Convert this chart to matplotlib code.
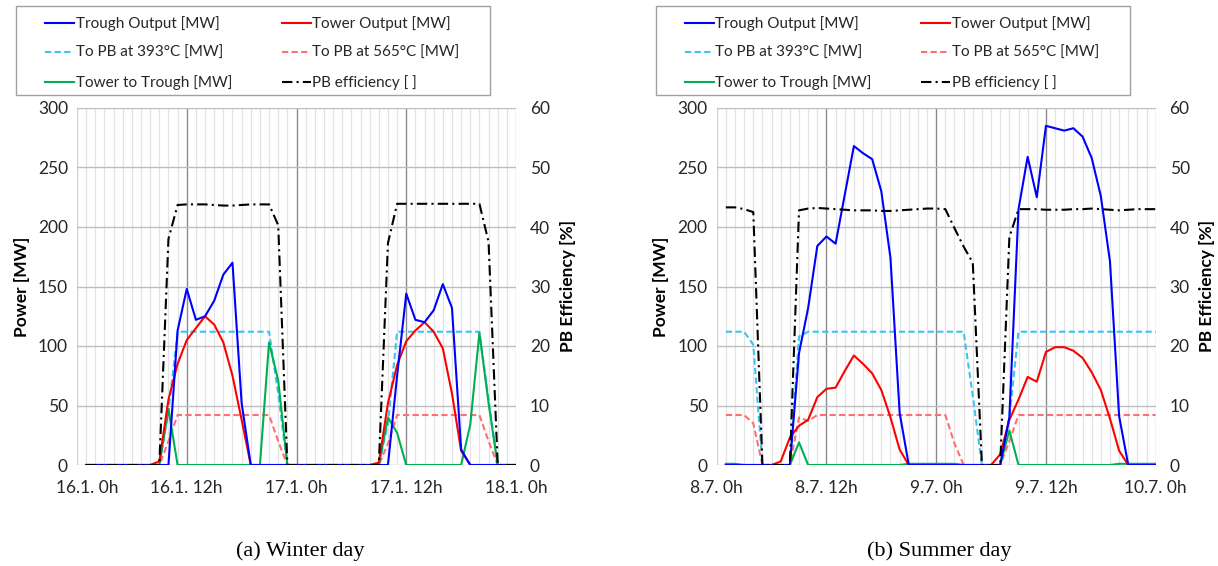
import matplotlib
matplotlib.use("Agg")
import matplotlib.pyplot as plt
from matplotlib.lines import Line2D
from matplotlib.patches import Rectangle
import matplotlib.transforms as mtransforms

# ---------------- data ----------------
hours = list(range(1, 49))

# Winter day (16.1. - 18.1.)
w_xticklabels = ["16.1. 0h", "16.1. 12h", "17.1. 0h", "17.1. 12h", "18.1. 0h"]
w_trough = [0, 0, 0, 0, 0, 0, 0, 0, 0, 0, 113, 148, 122, 125, 138, 160, 170, 52, 0, 0, 0, 0, 0, 0,
            0, 0, 0, 0, 0, 0, 0, 0, 0, 0, 75, 144, 122, 120, 130, 152, 132, 13, 0, 0, 0, 0, 0, 0]
w_tower = [0, 0, 0, 0, 0, 0, 0, 0, 3, 55, 85, 105, 115, 125, 118, 103, 75, 38, 0, 0, 0, 0, 0, 0,
           0, 0, 0, 0, 0, 0, 0, 0, 2, 52, 84, 104, 113, 120, 112, 98, 60, 12, 0, 0, 0, 0, 0, 0]
w_pb393 = [0, 0, 0, 0, 0, 0, 0, 0, 0, 45, 112, 112, 112, 112, 112, 112, 112, 112, 112, 112, 112, 60, 0, 0,
           0, 0, 0, 0, 0, 0, 0, 0, 0, 35, 112, 112, 112, 112, 112, 112, 112, 112, 112, 112, 55, 0, 0, 0]
w_pb565 = [0, 0, 0, 0, 0, 0, 0, 0, 0, 20, 42, 42, 42, 42, 42, 42, 42, 42, 42, 42, 42, 20, 0, 0,
           0, 0, 0, 0, 0, 0, 0, 0, 0, 18, 42, 42, 42, 42, 42, 42, 42, 42, 42, 42, 20, 0, 0, 0]
w_t2t = [0, 0, 0, 0, 0, 0, 0, 0, 0, 47, 0, 0, 0, 0, 0, 0, 0, 0, 0, 0, 103, 71, 0, 0,
         0, 0, 0, 0, 0, 0, 0, 0, 0, 40, 27, 0, 0, 0, 0, 0, 0, 0, 34, 111, 52, 0, 0, 0]
w_eff = [0, 0, 0, 0, 0, 0, 0, 0, 0, 38.0, 43.7, 43.8, 43.8, 43.8, 43.7, 43.6, 43.6, 43.7, 43.8, 43.8, 43.8, 40.3, 0, 0,
         0, 0, 0, 0, 0, 0, 0, 0, 0, 37.3, 43.9, 43.9, 43.9, 43.9, 43.9, 43.9, 43.9, 43.9, 43.9, 43.9, 37.5, 0, 0, 0]

# Summer day (8.7. - 10.7.)
s_xticklabels = ["8.7. 0h", "8.7. 12h", "9.7. 0h", "9.7. 12h", "10.7. 0h"]
s_trough = [0, 0, 0, 0, 0, 0, 0, 0, 94, 132, 184, 192, 186, 227, 268, 262, 257, 230, 174, 44, 0, 0, 0, 0,
            0, 0, 0, 0, 0, 0, 0, 40, 215, 259, 225, 285, 283, 281, 283, 276, 258, 226, 171, 41, 0, 0, 0, 0]
s_tower = [0, 0, 0, 0, 0, 0, 3, 23, 33, 38, 57, 64, 65, 79, 92, 85, 77, 63, 40, 13, 0, 0, 0, 0,
           0, 0, 0, 0, 0, 0, 9, 38, 55, 74, 70, 95, 99, 99, 96, 90, 78, 63, 39, 12, 0, 0, 0, 0]
s_pb393 = [112, 112, 112, 101, 0, 0, 0, 0, 108, 112, 112, 112, 112, 112, 112, 112, 112, 112, 112, 112, 112, 112, 112, 112,
           112, 112, 112, 58, 0, 0, 0, 40, 112, 112, 112, 112, 112, 112, 112, 112, 112, 112, 112, 112, 112, 112, 112, 112]
s_pb565 = [42, 42, 42, 35, 0, 0, 0, 0, 40, 37, 42, 42, 42, 42, 42, 42, 42, 42, 42, 42, 42, 42, 42, 42,
           42, 18, 0, 0, 0, 0, 0, 20, 42, 42, 42, 42, 42, 42, 42, 42, 42, 42, 42, 42, 42, 42, 42, 42]
s_t2t = [1, 1, 0, 0, 0, 0, 0, 0, 19, 0, 0, 0, 0, 0, 0, 0, 0, 0, 0, 0, 1, 1, 1, 1,
         1, 1, 0, 0, 0, 0, 0, 29, 0, 0, 0, 0, 0, 0, 0, 0, 0, 0, 0, 1, 1, 1, 1, 1]
s_eff = [43.3, 43.3, 43.0, 42.5, 0, 0, 0, 0, 42.8, 43.1, 43.2, 43.1, 43.0, 42.9, 42.8, 42.8, 42.8, 42.7, 42.7, 42.8, 42.9, 43.0, 43.1, 43.1,
         43.0, 39.8, 36.7, 34.0, 0, 0, 0, 38.3, 43.0, 43.0, 43.0, 42.9, 42.9, 42.9, 43.0, 43.0, 43.1, 43.0, 42.9, 42.8, 42.9, 43.0, 43.0, 43.0]

xtick_pos = [0, 12, 24, 36, 48]
power_ticks = [0, 50, 100, 150, 200, 250, 300]
eff_ticks = [0, 10, 20, 30, 40, 50, 60]
captions = ["(a) Winter day", "(b) Summer day"]

labels = ["Trough Output [MW]", "Tower Output [MW]", "To PB at 393°C [MW]",
          "To PB at 565°C [MW]", "Tower to Trough [MW]", "PB efficiency [ ]"]

# ---------------- style ----------------
W, H = 1218, 566
FONT = "Lato"
TICK_FS = 12.5
LEG_FS = 11
LAB_FS = 12.5
C_BLUE = "#0000FF"
C_RED = "#FF0000"
C_CYAN = "#3CC3F4"
C_LRED = "#FF6F6F"
C_GREEN = "#00B050"
LW = 1.5
ST_DASH = (0, (3, 1.6))
ST_DASHDOT = (0, (5, 2, 1, 2))

plt.rcParams["font.family"] = [FONT, "DejaVu Sans"]

fig = plt.figure(figsize=(W / 100, H / 100), dpi=100)


def fxy(px, py):
    return px / W, 1 - py / H


def panel(x0, xlabels, trough, tower, pb393, pb565, t2t, eff, caption, shift_first):
    x1 = x0 + 439
    y0, y1 = 108, 465
    ax = fig.add_axes([x0 / W, 1 - y1 / H, (x1 - x0) / W, (y1 - y0) / H])
    ax.set_xlim(0, 48)
    ax.set_ylim(0, 300)
    ax.set_xticks(xtick_pos)
    ax.set_xticks(range(0, 49), minor=True)
    ax.set_xticklabels(xlabels)
    ax.set_yticks(power_ticks)
    for s in ax.spines.values():
        s.set_visible(False)
    ax.tick_params(axis="both", which="both", length=0, labelsize=TICK_FS, colors="#262626")
    ax.tick_params(axis="x", pad=11)
    ax.tick_params(axis="y", pad=6.5)
    ax.grid(axis="x", which="minor", color="#E3E3E3", lw=0.9)
    ax.grid(axis="x", which="major", color="#8A8A8A", lw=1.0)
    ax.grid(axis="y", which="major", color="#BDBDBD", lw=1.0)
    glines = ax.get_xgridlines()
    glines[0].set_color("#D0D0D0")
    glines[-1].set_color("#D0D0D0")
    ax.set_axisbelow(True)

    ax.plot(hours, pb393, color=C_CYAN, lw=LW, ls=ST_DASH)
    ax.plot(hours, pb565, color=C_LRED, lw=LW, ls=ST_DASH)
    ax.plot(hours, t2t, color=C_GREEN, lw=LW)
    ax.plot(hours, tower, color=C_RED, lw=LW)
    ax.plot(hours, trough, color=C_BLUE, lw=LW)

    ax2 = ax.twinx()
    ax2.set_ylim(0, 60)
    ax2.set_yticks(eff_ticks)
    for s in ax2.spines.values():
        s.set_visible(False)
    ax2.tick_params(axis="y", length=0, labelsize=TICK_FS, colors="#262626", pad=10)
    ax2.plot(hours, eff, color="black", lw=LW, ls=ST_DASHDOT)

    ax.set_ylabel("Power [MW]", fontsize=LAB_FS, fontweight="bold", labelpad=6)
    ax2.set_ylabel("PB Efficiency [%]", fontsize=LAB_FS, fontweight="bold", labelpad=7)

    if shift_first:
        lab0 = ax.get_xticklabels()[0]
        lab0.set_transform(lab0.get_transform() +
                           mtransforms.ScaledTranslation(10 / 100, 0, fig.dpi_scale_trans))

    handles = [
        Line2D([], [], color=C_BLUE, lw=LW),
        Line2D([], [], color=C_CYAN, lw=LW, ls=ST_DASH),
        Line2D([], [], color=C_GREEN, lw=LW),
        Line2D([], [], color=C_RED, lw=LW),
        Line2D([], [], color=C_LRED, lw=LW, ls=ST_DASH),
        Line2D([], [], color="black", lw=LW, ls=ST_DASHDOT),
    ]
    labs = [labels[0], labels[2], labels[4], labels[1], labels[3], labels[5]]
    leg = ax.legend(handles, labs, ncol=2, loc="upper left",
                    bbox_to_anchor=fxy(x0 - 32, 16), bbox_transform=fig.transFigure,
                    frameon=False, borderpad=0, handlelength=1.9, handletextpad=0.1,
                    labelspacing=0.98, columnspacing=3.25, fontsize=LEG_FS, borderaxespad=0)
    for t in leg.get_texts():
        t.set_color("#262626")
    bx, by = fxy(x0 - 61, 95)
    fig.add_artist(Rectangle((bx, by), 474 / W, 89 / H, transform=fig.transFigure,
                             fill=False, edgecolor="#A0A0A0", lw=1.0))
    cx, cy = fxy(x0 + 223, 551)
    fig.text(cx, cy, caption, ha="center", va="center", fontsize=16,
             family=["Liberation Serif", "DejaVu Serif"])
    return ax


panel(77, w_xticklabels, w_trough, w_tower, w_pb393, w_pb565, w_t2t, w_eff, captions[0], True)
panel(716.7, s_xticklabels, s_trough, s_tower, s_pb393, s_pb565, s_t2t, s_eff, captions[1], False)

fig.savefig("out.png", dpi=100, facecolor="white")
